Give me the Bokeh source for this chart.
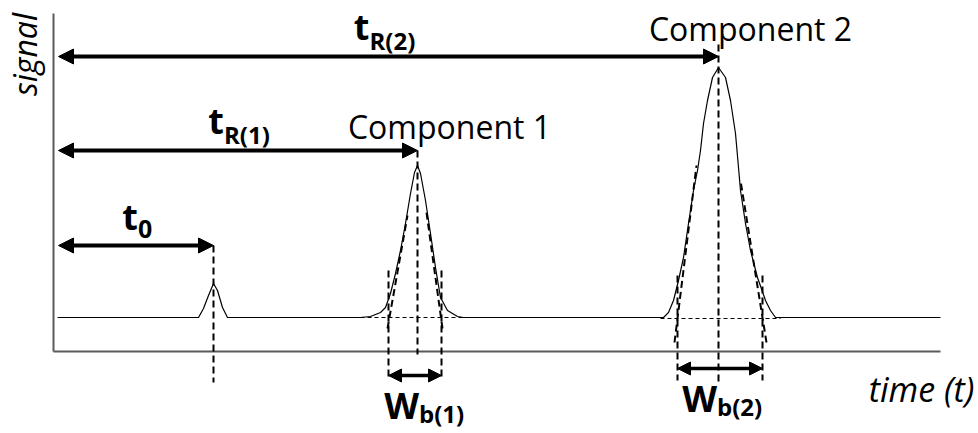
from bokeh.plotting import figure
from bokeh.models import Range1d, Label, Arrow, NormalHead
from bokeh.embed import file_html
from bokeh.resources import INLINE

# ---- data (time and signal in arbitrary units) ----
time_pts = [4, 145, 150, 155, 160, 164, 169, 174,
            307, 317, 327, 332, 337, 342, 347, 352, 357, 361, 364, 367, 372, 377, 382, 387, 394, 404, 410,
            597, 610, 615, 620, 625, 630, 635, 640, 644, 647, 650, 654, 659, 665, 672, 677, 682, 685, 687,
            692, 697, 704, 712, 717, 722, 730, 887]
signal_pts = [34, 34, 43, 56, 68, 61, 44, 34,
              34, 35, 39, 44, 58, 78, 101, 128, 158, 179, 186, 178, 151, 118, 84, 54, 41, 35, 34,
              34, 34, 39, 51, 71, 94, 128, 161, 181, 201, 228, 251, 274, 284, 274, 251, 218, 184, 161,
              128, 101, 74, 51, 41, 34, 34, 34]

baseline = 34
t0 = 160
t_r = [364, 665]                      # retention times of component 1 and 2
apex = [186, 284]                     # apex signal of component 1 and 2
wb_start = [335, 624]                 # base width limits (tangent intercepts)
wb_end = [388, 709]
component_labels = ["Component 1", "Component 2"]
tr_subs = ["R(1)", "R(2)"]
wb_subs = ["b(1)", "b(2)"]
# tangent lines: (t_low, s_low, t_high, s_high)
tangents = [(334, 23, 354, 136), (389, 23, 373, 139),
            (621, 9, 643, 186), (713, 9, 687, 171)]
axis_t_end = 887
axis_s_end = 338

FONT = "Open Sans"

p = figure(width=978, height=433, x_range=Range1d(-53, 925), y_range=Range1d(-82, 351),
           x_axis_type=None, y_axis_type=None, output_backend="svg", toolbar_location=None,
           min_border=0, min_border_left=0, min_border_right=0, min_border_top=0, min_border_bottom=0)
p.grid.visible = False
p.outline_line_color = None
p.background_fill_color = "white"
p.border_fill_color = "white"

# axes lines
p.segment(x0=[0, 0], y0=[0, 0], x1=[axis_t_end, 0], y1=[0, axis_s_end],
          line_color="#5a5a5a", line_width=2)

# baseline dashed extensions under the peaks
p.segment(x0=[t_r[0] - 57, t_r[1] - 58], y0=[baseline, baseline - 1],
          x1=[t_r[0] + 58, t_r[1] + 62], y1=[baseline, baseline - 1],
          line_color="black", line_width=1.2, line_dash="4 3")

# tangent lines
p.segment(x0=[a[0] for a in tangents], y0=[a[1] for a in tangents],
          x1=[a[2] for a in tangents], y1=[a[3] for a in tangents],
          line_color="black", line_width=2, line_dash="7 4")

# vertical dashed lines at peaks
p.segment(x0=[t0, t_r[0], t_r[1]], y0=[106, 201, 307],
          x1=[t0, t_r[0], t_r[1]], y1=[-31, -3, -32],
          line_color="black", line_width=2, line_dash="7 4")
# vertical dashed lines at base width limits
arrow_wb_y = [-24, -17]
for i in range(2):
    top = 81 if i == 0 else 76
    bot = -26 if i == 0 else -29
    p.segment(x0=[wb_start[i], wb_end[i]], y0=[top, top], x1=[wb_start[i], wb_end[i]], y1=[bot, bot],
              line_color="black", line_width=2, line_dash="7 4")

# chromatogram trace
p.line(time_pts, signal_pts, line_color="black", line_width=1.2, line_join="round")

# arrows
def add_arrow(x0, x1, y, size, lw):
    p.add_layout(Arrow(start=NormalHead(size=size, fill_color="black", line_color="black", line_width=1),
                       end=NormalHead(size=size, fill_color="black", line_color="black", line_width=1),
                       x_start=x0, y_start=y, x_end=x1, y_end=y,
                       line_color="black", line_width=lw))

arrow_t_y = [106, 201, 295]
add_arrow(5, t0, arrow_t_y[0], 15, 4)
add_arrow(5, t_r[0], arrow_t_y[1], 15, 4)
add_arrow(5, t_r[1], arrow_t_y[2], 15, 4)
for i in range(2):
    add_arrow(wb_start[i], wb_end[i], arrow_wb_y[i], 13, 3.5)

def lab(x, y, text, size, style="normal", align="left", baseline_="alphabetic", angle=0):
    if baseline_ == "alphabetic":
        y = y + 0.33 * size   # compensate renderer placing text low
    p.add_layout(Label(x=x, y=y, text=text, text_font=FONT, text_font_size=f"{size}px",
                       text_font_style=style, text_align=align, text_baseline=baseline_,
                       text_color="black", angle=angle, angle_units="deg"))

# t0 label
mid0 = (5 + t0) / 2
lab(mid0 + 2, arrow_t_y[0] + 17, "t", 36, "bold", "right")
lab(mid0 + 2, arrow_t_y[0] + 8, "0", 25, "bold", "left")
# tR labels
tr_dx = [-14, -19]
wb_dx = [4, -3]
for i in range(2):
    mid = (5 + t_r[i]) / 2
    lab(mid + tr_dx[i], arrow_t_y[i + 1] + 18, "t", 36, "bold", "right")
    lab(mid + tr_dx[i], arrow_t_y[i + 1] + 8, tr_subs[i], 24, "bold", "left")
    # component labels
    lab(t_r[i] + 32, apex[i] + 28, component_labels[i], 32, "normal", "center")
    # Wb labels
    midw = (wb_start[i] + wb_end[i]) / 2
    lab(midw + wb_dx[i], arrow_wb_y[i] - 42, "W", 36, "bold", "right")
    lab(midw + wb_dx[i], arrow_wb_y[i] - 46, wb_subs[i], 24, "bold", "left")

# axis titles
lab(-29, 297, "signal", 32, "italic", "center", "middle", angle=90)
lab(921, -49, "time (t)", 34, "italic", "right")

open("out.html", "w").write(file_html(p, INLINE))
